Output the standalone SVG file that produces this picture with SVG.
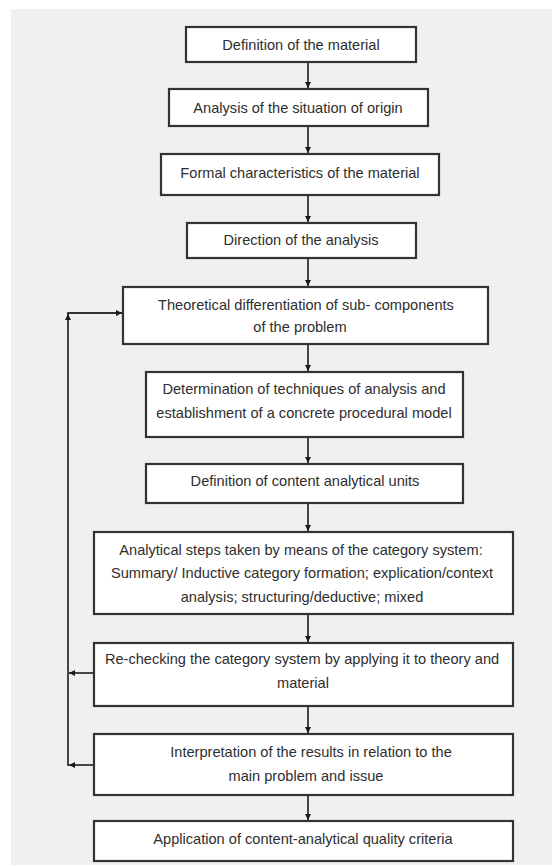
<svg xmlns="http://www.w3.org/2000/svg" width="553" height="865" viewBox="0 0 553 865">
<defs>
<style>
.box{fill:#fff;stroke:#333;stroke-width:2.2}
.t{font-family:"Liberation Sans",Arial,sans-serif;font-size:14.6px;fill:#2e2e2e;text-anchor:middle}
.c{fill:none;stroke:#333;stroke-width:1.8}
</style>
<marker id="ah" viewBox="0 0 10 10" refX="10" refY="5" markerWidth="6" markerHeight="6" orient="auto" markerUnits="userSpaceOnUse">
<path d="M0,0 L10,5 L0,10 z" fill="#1a1a1a"/>
</marker>
</defs>
<rect x="0" y="0" width="553" height="865" fill="#fff"/>
<rect x="11" y="9" width="541" height="856" fill="#f0f0f0"/>
<g id="connectors">
<line class="c" x1="308" y1="62" x2="308" y2="88" marker-end="url(#ah)"/>
<line class="c" x1="308" y1="126" x2="308" y2="153" marker-end="url(#ah)"/>
<line class="c" x1="308" y1="195" x2="308" y2="222" marker-end="url(#ah)"/>
<line class="c" x1="308" y1="258" x2="308" y2="286" marker-end="url(#ah)"/>
<line class="c" x1="308" y1="344" x2="308" y2="371" marker-end="url(#ah)"/>
<line class="c" x1="308" y1="437" x2="308" y2="463" marker-end="url(#ah)"/>
<line class="c" x1="308" y1="503" x2="308" y2="531" marker-end="url(#ah)"/>
<line class="c" x1="308" y1="614" x2="308" y2="642" marker-end="url(#ah)"/>
<line class="c" x1="308" y1="706" x2="308" y2="733" marker-end="url(#ah)"/>
<line class="c" x1="308" y1="795" x2="308" y2="820" marker-end="url(#ah)"/>
<polyline class="c" points="68,766 68,313 122,313" marker-end="url(#ah)"/>
<line class="c" x1="68" y1="321" x2="68" y2="314" marker-end="url(#ah)"/>
<line class="c" x1="94" y1="673" x2="69" y2="673" marker-end="url(#ah)"/>
<line class="c" x1="94" y1="765" x2="69" y2="765" marker-end="url(#ah)"/>
</g>
<g id="n1"><rect class="box" x="186" y="27" width="230" height="35"/><text class="t" x="301" y="50">Definition of the material</text></g>
<g id="n2"><rect class="box" x="169" y="89" width="259" height="37"/><text class="t" x="298" y="113">Analysis of the situation of origin</text></g>
<g id="n3"><rect class="box" x="161" y="154" width="278" height="41"/><text class="t" x="300" y="178">Formal characteristics of the material</text></g>
<g id="n4"><rect class="box" x="187" y="223" width="229" height="35"/><text class="t" x="301" y="245">Direction of the analysis</text></g>
<g id="n5"><rect class="box" x="123" y="287" width="365" height="57"/><text class="t" x="306" y="310">Theoretical differentiation of sub- components</text><text class="t" x="300" y="332">of the problem</text></g>
<g id="n6"><rect class="box" x="146" y="372" width="317" height="65"/><text class="t" x="304" y="394">Determination of techniques of analysis and</text><text class="t" x="304" y="418">establishment of a concrete procedural model</text></g>
<g id="n7"><rect class="box" x="146" y="464" width="317" height="39"/><text class="t" x="305" y="486">Definition of content analytical units</text></g>
<g id="n8"><rect class="box" x="94" y="532" width="419" height="82"/><text class="t" x="301" y="555">Analytical steps taken by means of the category system:</text><text class="t" x="302" y="578">Summary/ Inductive category formation; explication/context</text><text class="t" x="302" y="602">analysis; structuring/deductive; mixed</text></g>
<g id="n9"><rect class="box" x="94" y="643" width="419" height="63"/><text class="t" x="302" y="664">Re-checking the category system by applying it to theory and</text><text class="t" x="303" y="688">material</text></g>
<g id="n10"><rect class="box" x="94" y="734" width="419" height="61"/><text class="t" x="311" y="757">Interpretation of the results in relation to the</text><text class="t" x="306" y="781">main problem and issue</text></g>
<g id="n11"><rect class="box" x="94" y="821" width="419" height="40"/><text class="t" x="303" y="844">Application of content-analytical quality criteria</text></g>
</svg>
